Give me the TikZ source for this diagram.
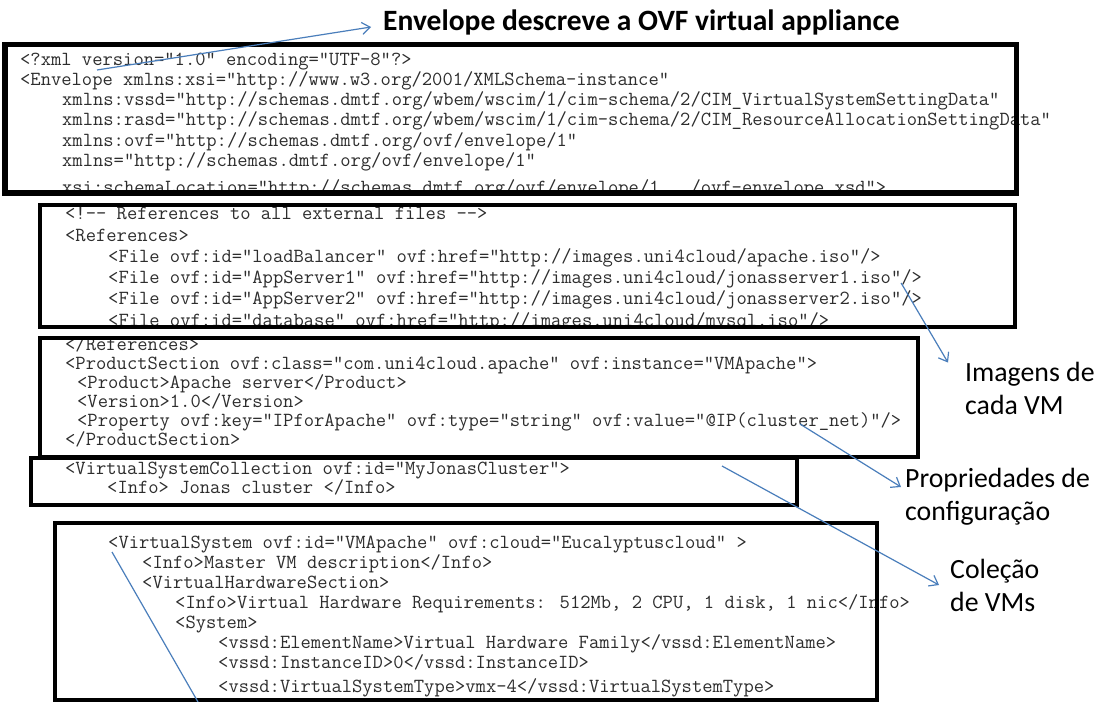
\documentclass[tikz,border=0pt]{standalone}
\usepackage{fontspec}
\setmainfont{Carlito}
\usetikzlibrary{arrows.meta}

\definecolor{ovfblue}{RGB}{74,126,187}
\definecolor{codegray}{RGB}{45,45,45}

\begin{document}
\begin{tikzpicture}[x=1bp, y=-1bp,
    codeline/.style={anchor=west, inner sep=0pt, text=codegray, text height=11bp, text depth=3bp,
        font=\ttfamily\fontsize{#1}{20bp}\selectfont},
    codeline/.default=20bp,
    boxline/.style={draw=black, line width=4bp},
    callout/.style={draw=ovfblue, line width=1.2bp, -{Straight Barb[length=8bp, width=12bp]}},
    remark/.style={anchor=west, align=left, inner sep=0pt, font=\fontsize{27.8bp}{33bp}\selectfont}]
    \useasboundingbox[fill=white] (0,0) rectangle (1118,702);

    % Envelope
    \begin{scope}
        \clip (0,45) rectangle (1118,191);
        \node[codeline] (xmlhead) at (20,62) {<?xml version="1.0" encoding="UTF-8"?>};
        \node[codeline] (envopen) at (20,82) {<Envelope xmlns:xsi="http://www.w3.org/2001/XMLSchema-instance"};
        \node[codeline] (nsvssd) at (62,102) {xmlns:vssd="http://schemas.dmtf.org/wbem/wscim/1/cim-schema/2/CIM\_VirtualSystemSettingData"};
        \node[codeline] (nsrasd) at (62,122) {xmlns:rasd="http://schemas.dmtf.org/wbem/wscim/1/cim-schema/2/CIM\_ResourceAllocationSettingData"};
        \node[codeline] (nsovf) at (62,143) {xmlns:ovf="http://schemas.dmtf.org/ovf/envelope/1"};
        \node[codeline] (nsdef) at (62,163) {xmlns="http://schemas.dmtf.org/ovf/envelope/1"};
        \node[codeline] (schemaloc) at (62,190) {xsi:schemaLocation="http://schemas.dmtf.org/ovf/envelope/1 ../ovf-envelope.xsd">};
    \end{scope}
    \draw[boxline, line width=5bp] (5,45) rectangle (1016,193);

    % References
    \begin{scope}
        \clip (0,205) rectangle (1118,326);
        \node[codeline] (refcomment) at (65,216) {<!-{}- References to all external files -{}->};
        \node[codeline] (refopen) at (65,237) {<References>};
        \node[codeline] (fileapache) at (108,258) {<File ovf:id="loadBalancer" ovf:href="http://images.uni4cloud/apache.iso"/>};
        \node[codeline] (fileapp1) at (108,279) {<File ovf:id="AppServer1" ovf:href="http://images.uni4cloud/jonasserver1.iso"/>};
        \node[codeline] (fileapp2) at (108,300) {<File ovf:id="AppServer2" ovf:href="http://images.uni4cloud/jonasserver2.iso"/>};
        \node[codeline] (filedb) at (108,322) {<File ovf:id="database" ovf:href="http://images.uni4cloud/mysql.iso"/>};
    \end{scope}
    \draw[boxline] (40,205) rectangle (1015,327);

    % Product section
    \begin{scope}
        \clip (0,338) rectangle (1118,456);
        \node[codeline] (refclose) at (65,346) {</References>};
        \node[codeline] (prodopen) at (65,365) {<ProductSection ovf:class="com.uni4cloud.apache" ovf:instance="VMApache">};
        \node[codeline] (product) at (77,384) {<Product>Apache server</Product>};
        \node[codeline] (version) at (77,403) {<Version>1.0</Version>};
        \node[codeline] (property) at (77,422) {<Property ovf:key="IPforApache" ovf:type="string" ovf:value="@IP(cluster\_net)"/>};
        \node[codeline] (prodclose) at (65,441) {</ProductSection>};
    \end{scope}
    \draw[boxline] (40,338) rectangle (918,457);

    % Collection
    \begin{scope}
        \clip (0,459) rectangle (1118,504);
        \node[codeline] (collopen) at (65,470) {<VirtualSystemCollection ovf:id="MyJonasCluster">};
        \node[codeline] (collinfo) at (107,489) {<Info> Jonas cluster </Info>};
    \end{scope}
    \draw[boxline] (31,458) rectangle (797,505);

    % Virtual system
    \begin{scope}
        \clip (0,525) rectangle (1118,698);
        \node[codeline] (vsopen) at (108,544) {<VirtualSystem ovf:id="VMApache" ovf:cloud="Eucalyptuscloud" >};
        \node[codeline] (vsinfo) at (142,564) {<Info>Master VM description</Info>};
        \node[codeline] (hwopen) at (142,584) {<VirtualHardwareSection>};
        \node[codeline] (hwinfo) at (175,604) {<Info>Virtual Hardware Requirements: 512Mb, 2 CPU, 1 disk, 1 nic</Info>};
        \node[codeline] (sysopen) at (175,624) {<System>};
        \node[codeline] (elemname) at (218,644) {<vssd:ElementName>Virtual Hardware Family</vssd:ElementName>};
        \node[codeline] (instid) at (218,664) {<vssd:InstanceID>0</vssd:InstanceID>};
        \node[codeline] (systype) at (218,688) {<vssd:VirtualSystemType>vmx-4</vssd:VirtualSystemType>};
    \end{scope}
    \draw[boxline] (55,523) rectangle (877,700);

    % Labels
    \node[remark, font=\bfseries\fontsize{29.5bp}{30bp}\selectfont] (title) at (383,22) {Envelope descreve a OVF virtual appliance};
    \node[remark] (imagens) at (965,388) {Imagens de\\cada VM};
    \node[remark] (propried) at (905,497) {Propriedades de\\configuração};
    \node[remark] (colecao) at (950,585) {Coleção\\de VMs};

    % Callouts
    \coordinate (fromxml) at (97,70);
    \coordinate (fromiso) at ([shift={(-21bp,-4bp)}]fileapp1.east);
    \coordinate (fromprop) at (800,424);
    \coordinate (fromcoll) at (722,466);
    \coordinate (vstop) at (112,552);
    \coordinate (vsbottom) at (198,702);
    \draw[callout] (fromxml) -- ([shift={(-12bp,-5bp)}]title.west);
    \draw[callout] (fromiso) -- ([shift={(-17bp,-1bp)}]imagens.north west);
    \draw[callout] (fromprop) -- ([shift={(-4bp,10bp)}]propried.west);
    \draw[callout] (fromcoll) -- ([xshift=-11bp]colecao.west);
    \draw[ovfblue, line width=1.2bp] (vstop) -- (vsbottom);
\end{tikzpicture}
\end{document}
